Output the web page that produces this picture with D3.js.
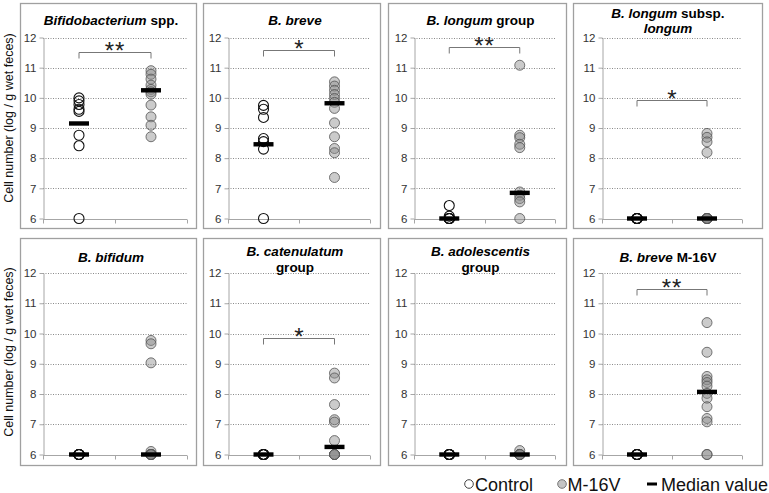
<!DOCTYPE html>
<html>
<head>
<meta charset="utf-8">
<script src="https://cdn.jsdelivr.net/npm/d3@7"></script>
<style>
  html, body { margin: 0; padding: 0; background: #fff; }
  svg { display: block; font-family: "Liberation Sans", Arial, sans-serif; }
</style>
</head>
<body>
<svg id="chart" width="769" height="493"></svg>
<script>
// ---------- data ----------
const groups = ["Control", "M-16V"];
const yTicks = [6, 7, 8, 9, 10, 11, 12];

// title lines: each line is a list of [text, italic]
const panelTitles = [
  [[["Bifidobacterium", true], [" spp.", false]]],
  [[["B. breve", true]]],
  [[["B. longum", true], [" group", false]]],
  [[["B. longum", true], [" subsp.", false]], [["longum", true]]],
  [[["B. bifidum", true]]],
  [[["B. catenulatum", true]], [["group", false]]],
  [[["B. adolescentis", true]], [["group", false]]],
  [[["B. breve", true], [" M-16V", false]]]
];

const controlValues = [
  [10.0, 9.9, 9.78, 9.62, 9.55, 8.76, 8.41, 6.0],
  [9.75, 9.62, 9.35, 8.65, 8.55, 8.3, 6.0],
  [6.43, 6.08, 6, 6, 6, 6, 6],
  [6, 6, 6, 6, 6, 6, 6],
  [6, 6, 6, 6, 6, 6, 6],
  [6, 6, 6, 6, 6, 6, 6],
  [6, 6, 6, 6, 6, 6, 6],
  [6, 6, 6, 6, 6, 6, 6]
];

const m16vValues = [
  [10.9, 10.78, 10.62, 10.42, 10.28, 10.2, 10.12, 9.76, 9.37, 9.09, 8.71],
  [10.53, 10.39, 10.25, 10.11, 9.98, 9.85, 9.65, 9.17, 8.71, 8.32, 8.18, 7.36],
  [11.08, 8.76, 8.68, 8.46, 8.35, 6.88, 6.77, 6.66, 6.55, 6.0],
  [8.82, 8.69, 8.54, 8.19, 6, 6, 6, 6, 6, 6, 6],
  [9.77, 9.66, 9.03, 6.1, 6, 6, 6, 6, 6, 6, 6],
  [8.69, 8.53, 7.65, 7.15, 7.07, 6.46, 6.0, 6, 6, 6],
  [6.13, 6, 6, 6, 6, 6, 6],
  [10.36, 9.38, 8.58, 8.47, 8.38, 8.26, 8.02, 7.86, 7.58, 7.19, 7.08, 6, 6]
];

const controlMedians = [9.15, 8.46, 6.0, 6.0, 6.0, 6.0, 6.0, 6.0];
const m16vMedians = [10.25, 9.82, 6.85, 6.0, 6.0, 6.25, 6.0, 8.07];

const significance = ["**", "*", "**", "*", "", "*", "", "**"];
const bracketLevels = [11.51, 11.58, 11.69, 9.93, null, 9.84, null, 11.46];

const yAxisTitle = "Cell number (log / g wet feces)";
const legendLabels = ["Control", "M-16V", "Median value"];

// ---------- layout ----------
const frameX = [[20, 196], [203, 380], [388, 566], [573, 762]];
const plotX = [[43, 187], [228, 370], [414, 555], [602, 742]];
const rows = [
  { frame: [3, 228], y: [218.5, 37.5], titleBase: [25, 18], title2: 33 },
  { frame: [238, 465], y: [454.5, 273], titleBase: [262, 256], title2: 272 }
];

const svg = d3.select("#chart");
const gridColor = "#8a8a8a";
const axisColor = "#a6a6a6";

panelTitles.forEach((title, i) => {
  const col = i % 4, row = rows[Math.floor(i / 4)];
  const g = svg.append("g");

  // frame
  g.append("rect")
    .attr("x", frameX[col][0] + 0.5).attr("y", row.frame[0] + 0.5)
    .attr("width", frameX[col][1] - frameX[col][0])
    .attr("height", row.frame[1] - row.frame[0])
    .attr("fill", "none").attr("stroke", "#a0a0a0").attr("stroke-width", 1.3);

  const x = d3.scaleBand().domain(groups).range(plotX[col]);
  const y = d3.scaleLinear().domain([6, 12]).range(row.y);

  // gridlines
  g.append("g").selectAll("line").data(yTicks.filter(t => t > 6)).join("line")
    .attr("x1", plotX[col][0]).attr("x2", plotX[col][1])
    .attr("y1", d => Math.round(y(d)) + 0.5).attr("y2", d => Math.round(y(d)) + 0.5)
    .attr("stroke", gridColor).attr("stroke-width", 1).attr("stroke-dasharray", "1,1.5");

  // y axis
  const ya = g.append("g").attr("transform", `translate(${plotX[col][0] + 0.5},0)`)
    .call(d3.axisLeft(y).tickValues(yTicks).tickFormat(d3.format("d"))
      .tickSize(4).tickPadding(3).tickSizeOuter(0));
  ya.select(".domain").attr("stroke", axisColor);
  ya.selectAll(".tick line").attr("stroke", axisColor);
  ya.selectAll(".tick text").attr("fill", "#333").style("font-size", "11.5px")
    .style("font-family", "'Liberation Sans', Arial, sans-serif");

  // x axis line with ticks at category boundaries
  const y6 = Math.round(y(6)) + 0.5;
  g.append("line").attr("x1", plotX[col][0]).attr("x2", plotX[col][1])
    .attr("y1", y6).attr("y2", y6).attr("stroke", axisColor).attr("stroke-width", 1.2);
  const bounds = [0, 1, 2].map(k => x.range()[0] + k * x.step());
  g.append("g").selectAll("line").data(bounds).join("line")
    .attr("x1", d => Math.round(d) + 0.5).attr("x2", d => Math.round(d) + 0.5)
    .attr("y1", y6).attr("y2", y6 + 4).attr("stroke", axisColor);

  // title
  const cx = (plotX[col][0] + plotX[col][1]) / 2 - 4;
  title.forEach((line, li) => {
    const base = title.length === 1 ? row.titleBase[0] : (li === 0 ? row.titleBase[1] : row.title2);
    const t = g.append("text").attr("x", cx).attr("y", base)
      .attr("text-anchor", "middle").style("font-size", "13.5px").style("font-weight", "bold")
      .attr("fill", "#000");
    line.forEach(([s, it]) => t.append("tspan").text(s).style("font-style", it ? "italic" : "normal"));
  });

  // significance bracket
  if (bracketLevels[i] !== null) {
    const by = Math.round(y(bracketLevels[i])) + 0.5;
    const x1 = x("Control") + x.bandwidth() / 2, x2 = x("M-16V") + x.bandwidth() / 2;
    g.append("path")
      .attr("d", `M${x1},${by + 6}V${by}H${x2}V${by + 6}`)
      .attr("fill", "none").attr("stroke", "#777").attr("stroke-width", 1);
    g.append("text").attr("x", (x1 + x2) / 2).attr("y", by + 6)
      .attr("text-anchor", "middle").style("font-size", "24px")
      .style("letter-spacing", significance[i].length > 1 ? "1px" : "0")
      .attr("fill", "#222").text(significance[i]);
  }

  // points
  const cxC = x("Control") + x.bandwidth() / 2, cxM = x("M-16V") + x.bandwidth() / 2;
  g.append("g").selectAll("circle").data(controlValues[i]).join("circle")
    .attr("cx", cxC).attr("cy", d => y(d)).attr("r", 5)
    .attr("fill", "none").attr("stroke", "#111").attr("stroke-width", 1.1);
  g.append("g").selectAll("circle").data(m16vValues[i]).join("circle")
    .attr("cx", cxM).attr("cy", d => y(d)).attr("r", 5)
    .attr("fill", "rgb(140,140,140)").attr("fill-opacity", 0.45)
    .attr("stroke", "#555").attr("stroke-opacity", 0.8).attr("stroke-width", 1);

  // medians
  [[cxC, controlMedians[i]], [cxM, m16vMedians[i]]].forEach(([mx, mv]) => {
    g.append("rect").attr("x", mx - 10).attr("y", y(mv) - 2.2)
      .attr("width", 20).attr("height", 4.4).attr("fill", "#000");
  });
});

// y axis titles
[118, 352].forEach(cy => {
  svg.append("text").attr("transform", `translate(13,${cy}) rotate(-90)`)
    .attr("text-anchor", "middle").style("font-size", "12.5px").attr("fill", "#111")
    .text(yAxisTitle);
});

// legend
const ly = 484;
svg.append("circle").attr("cx", 469).attr("cy", ly).attr("r", 4.3)
  .attr("fill", "#fff").attr("stroke", "#444").attr("stroke-width", 1);
svg.append("text").attr("x", 475).attr("y", ly + 6.5).style("font-size", "18px").attr("fill", "#111").text(legendLabels[0]);
svg.append("circle").attr("cx", 562).attr("cy", ly).attr("r", 4.3)
  .attr("fill", "#c4c4c4").attr("stroke", "#777").attr("stroke-width", 1);
svg.append("text").attr("x", 567.5).attr("y", ly + 6.5).style("font-size", "18px").attr("fill", "#111").text(legendLabels[1]);
svg.append("rect").attr("x", 647).attr("y", ly - 1.5).attr("width", 10).attr("height", 3).attr("fill", "#000");
svg.append("text").attr("x", 661).attr("y", ly + 6.5).style("font-size", "18px").attr("fill", "#111").text(legendLabels[2]);
</script>
</body>
</html>
